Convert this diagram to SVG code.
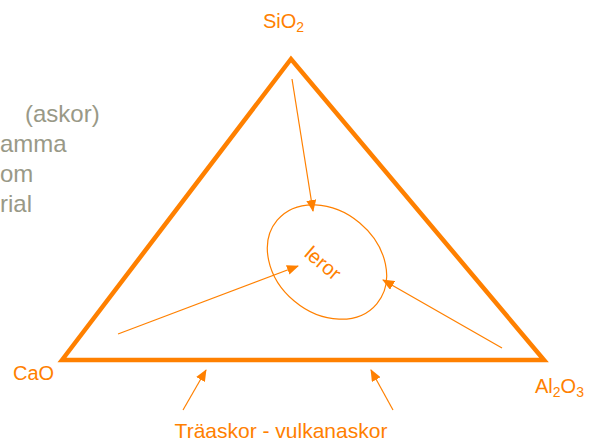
<svg xmlns="http://www.w3.org/2000/svg" width="592" height="444" viewBox="0 0 592 444">
<defs>
<style>
.lbl{font-family:"Liberation Sans",Arial,sans-serif;font-size:20px;fill:#FF8000}
.sub{font-size:14px}
.grey{font-family:"Liberation Sans",Arial,sans-serif;font-size:24px;fill:#999987}
.arr{stroke:#FF8000;stroke-width:1.2;fill:none;marker-end:url(#ah)}
</style>
<marker id="ah" markerUnits="userSpaceOnUse" markerWidth="12" markerHeight="10" refX="11" refY="5" orient="auto">
<path d="M0,0 L12,5 L0,10 Z" fill="#FF8000"/>
</marker>
</defs>
<rect width="592" height="444" fill="#fff"/>
<g id="side-text">
<text class="grey" x="25" y="122">(askor)</text>
<text class="grey" x="0" y="152">amma</text>
<text class="grey" x="0" y="182">om</text>
<text class="grey" x="0" y="212">rial</text>
</g>
<g id="triangle">
<path d="M62,360 L291,59 L544,360 Z" fill="none" stroke="#FF8000" stroke-width="4.5" stroke-linejoin="miter"/>
</g>
<g id="sio2"><text class="lbl" x="263" y="28">SiO<tspan class="sub" dy="4">2</tspan></text></g>
<g id="cao"><text class="lbl" x="13" y="380">CaO</text></g>
<g id="al2o3"><text class="lbl" x="535" y="393">Al<tspan class="sub" dy="4">2</tspan><tspan dy="-4">O</tspan><tspan class="sub" dy="4">3</tspan></text></g>
<g id="leror">
<ellipse cx="327" cy="262" rx="65" ry="51" transform="rotate(40 327 262)" fill="none" stroke="#FF8000" stroke-width="1.2"/>
<text class="lbl" x="0" y="0" text-anchor="middle" transform="translate(323,263) rotate(40) translate(0,7)">leror</text>
</g>
<g id="bottom-label"><text class="lbl" x="281" y="438" text-anchor="middle" style="font-size:21px">Träaskor - vulkanaskor</text></g>
<g id="connectors">
<line class="arr" x1="292" y1="79" x2="313" y2="211"/>
<line class="arr" x1="118" y1="334" x2="298" y2="266"/>
<line class="arr" x1="502" y1="348" x2="383" y2="280"/>
<line class="arr" x1="183" y1="410" x2="206" y2="370"/>
<line class="arr" x1="393" y1="410" x2="371" y2="370"/>
</g>
</svg>
